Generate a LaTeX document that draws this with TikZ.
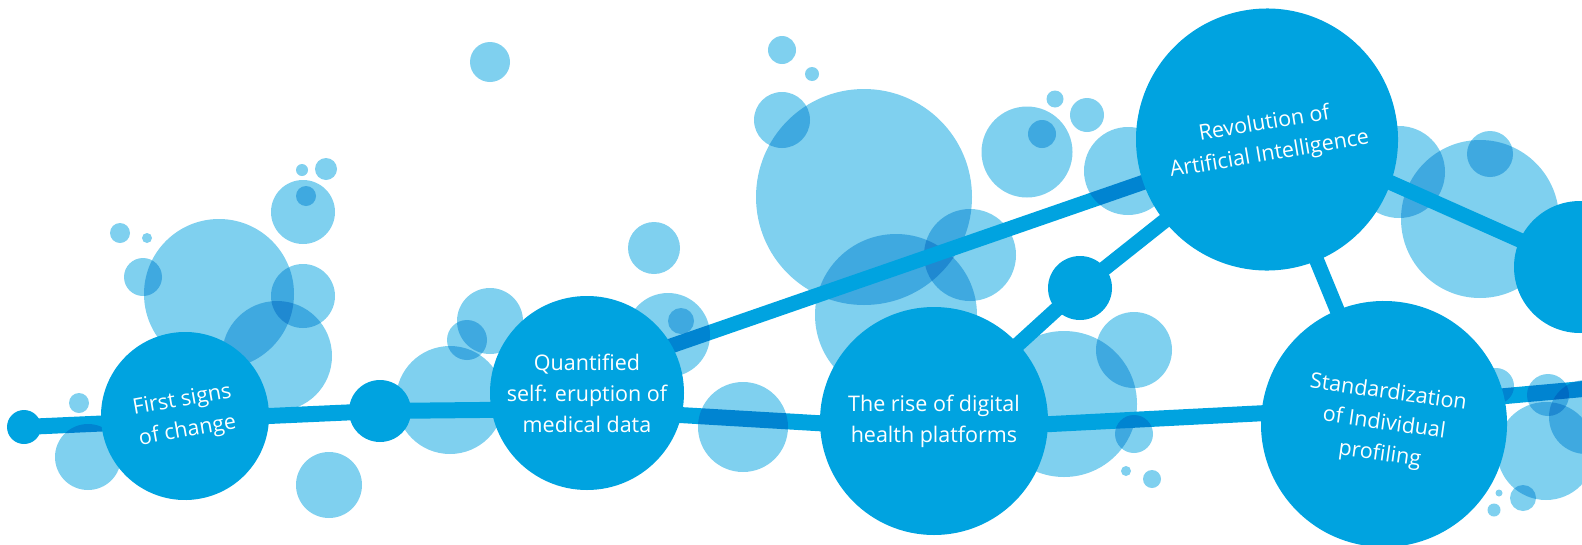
\documentclass[tikz,border=0pt]{standalone}
\usepackage{fontspec}
\setmainfont{Open Sans}
\definecolor{hubblue}{RGB}{0,163,224}
\definecolor{bubblue}{RGB}{127,208,239}
\pgfdeclarelayer{under}
\pgfdeclarelayer{lines}
\pgfdeclarelayer{over}
\pgfsetlayers{under,lines,over,main}
\tikzset{
  milestone/.style={circle, fill=hubblue, draw=none, inner sep=0pt, text=white,
    align=center, font=\fontsize{21.5}{31}\selectfont},
  joint/.style={circle, fill=hubblue, draw=none, inner sep=0pt},
  link/.style={draw=hubblue, line width=16pt},
  thinlink/.style={draw=hubblue, line width=15pt},
  bubble/.style={fill=bubblue},
}
\begin{document}
\begin{tikzpicture}[x=1pt,y=-1pt]
\useasboundingbox (0,0) rectangle (1582,544);

% milestone circles and joints
\node[joint, minimum size=34pt] (d1) at (24,427) {};
\node[milestone, minimum size=168pt, rotate=10] (first) at (185,416) {First signs\\of change};
\node[joint, minimum size=62pt] (d2) at (380,411) {};
\node[milestone, minimum size=194pt] (quant) at (587,393) {Quantified\\self: eruption of\\medical data};
\node[milestone, minimum size=228pt] (rise) at (934,421) {The rise of digital\\health platforms};
\node[joint, minimum size=64pt] (d3) at (1080,288) {};
\node[milestone, minimum size=262pt, rotate=9.5] (rev) at (1267,139.5) {Revolution of\\Artificial Intelligence};
\node[milestone, minimum size=246pt, rotate=-8] (std) at (1384,424) {Standardization\\of Individual\\profiling};
\node[joint, minimum size=132pt] (edge) at (1580,267) {};
\coordinate (exit) at (1600,387.5);

% bubbles below the connectors
\begin{pgfonlayer}{under}
\begin{scope}[blend mode=multiply]
\foreach \x/\y/\r in {219/294/75, 277/356/55, 303/296/32, 303/212/32, 306/196/10,
  302/170/6, 326/169/11, 143/277/19, 120/233/10, 147/238/5, 79/403/10, 329/485/33,
  654/248/26, 490/321/33, 467/340/20, 450/400/54, 490/62/20,
  782/50/14, 812/74/7, 782/120/28, 864/197/108, 896/315/81, 970/255/46,
  1027/152/45.5, 1042/134/14, 1055/99/8.5, 1087/115/17,
  1064/404/73, 1134/350/38, 1126/471/5, 1152/479/9,
  1399/172/46, 1480/219/79, 1490/154/23,
  1546/451/49, 1523/498/13, 1494/510/6.5, 1499/493/3.5}
  \fill[bubble] (\x,\y) circle[radius=\r pt];
\end{scope}
\end{pgfonlayer}

% connectors
\begin{pgfonlayer}{lines}
\draw[link] (d1.center) -- (d2.center);
\draw[link] (d2.center) -- ([shift={(-9,16)}]quant.center);
\draw[link] ([shift={(-9,16)}]quant.center) -- ([shift={(0,9)}]rise.center);
\draw[link] ([shift={(0,9)}]rise.center) -- ([shift={(0,-17)}]std.center);
\draw[link] ([shift={(0,-17)}]std.center) -- (exit);
\draw[thinlink] ([shift={(0,-18)}]quant.center) -- (rev.center);
\draw[thinlink] (rise.center) -- (d3.center);
\draw[thinlink] (d3.center) -- (rev.center);
\draw[thinlink] (rev.center) -- (std.center);
\draw[thinlink] ([shift={(0,-12)}]rev.center) -- (edge.center);
\end{pgfonlayer}

% bubbles above the connectors
\begin{pgfonlayer}{over}
\begin{scope}[blend mode=multiply]
\foreach \x/\y/\r in {88/457/33, 668/335/42, 681/321/13, 743/427/45,
  1128/171/44, 1134/434/19, 1496/386/18, 1548/395/21, 1586/417/37}
  \fill[bubble] (\x,\y) circle[radius=\r pt];
\end{scope}
\end{pgfonlayer}
\end{tikzpicture}
\end{document}
